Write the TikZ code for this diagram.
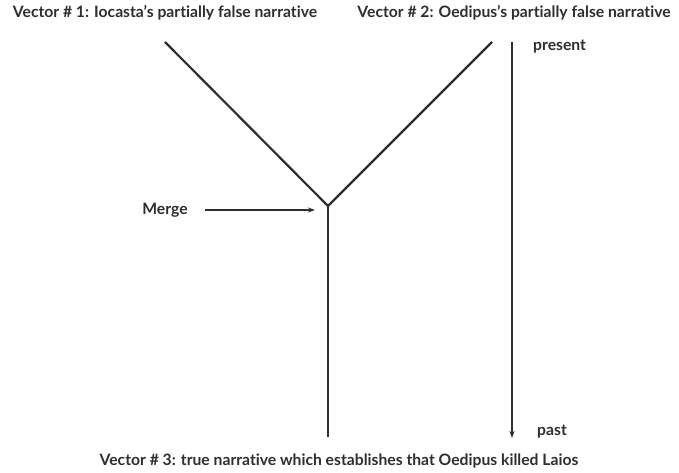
\documentclass[tikz,border=0pt]{standalone}
\usepackage{fontspec}
\setmainfont{Lato}[Ligatures=NoCommon]
\usetikzlibrary{arrows.meta}
\definecolor{inkgray}{HTML}{2E2E2E}
\tikzset{
  vec/.style={line width=2.2pt, draw=inkgray},
  lbl/.style={font=\bfseries\fontsize{15.7}{18}\selectfont, text=inkgray, inner sep=0pt},
  tip/.style={-{Stealth[length=7pt,width=5pt]}}
}
\begin{document}
\begin{tikzpicture}[x=1pt,y=-1pt]
        \useasboundingbox (0,0) rectangle (679,473);

        \node[lbl] (v1) at (165,13) {Vector \# 1: Iocasta’s partially false narrative};
        \node[lbl] (v2) at (514,13) {Vector \# 2: Oedipus’s partially false narrative};
        \node[lbl] (v3) at (339,461) {Vector \# 3: true narrative which establishes that Oedipus killed Laios};

        \coordinate (top1) at (165,42);
        \coordinate (top2) at (492,42);
        \coordinate (merge) at (328,206);
        \coordinate (bottom) at (328,437);
        \draw[vec] (top1) -- (merge) -- (top2);
        \draw[vec] (merge) -- (bottom);

        \node[lbl] (mlabel) at (165,210) {Merge};
        \coordinate (mstart) at (205,210);
        \coordinate (mend) at (315,210);
        \draw[vec, line width=1.8pt, tip] (mstart) -- (mend);

        \node[lbl, anchor=west] (present) at (533,47) {present};
        \node[lbl, anchor=west] (past) at (537,432) {past};
        \coordinate (now) at (512,42);
        \coordinate (then) at (512,438);
        \draw[vec, tip] (now) -- (then);
    \end{tikzpicture}
\end{document}
